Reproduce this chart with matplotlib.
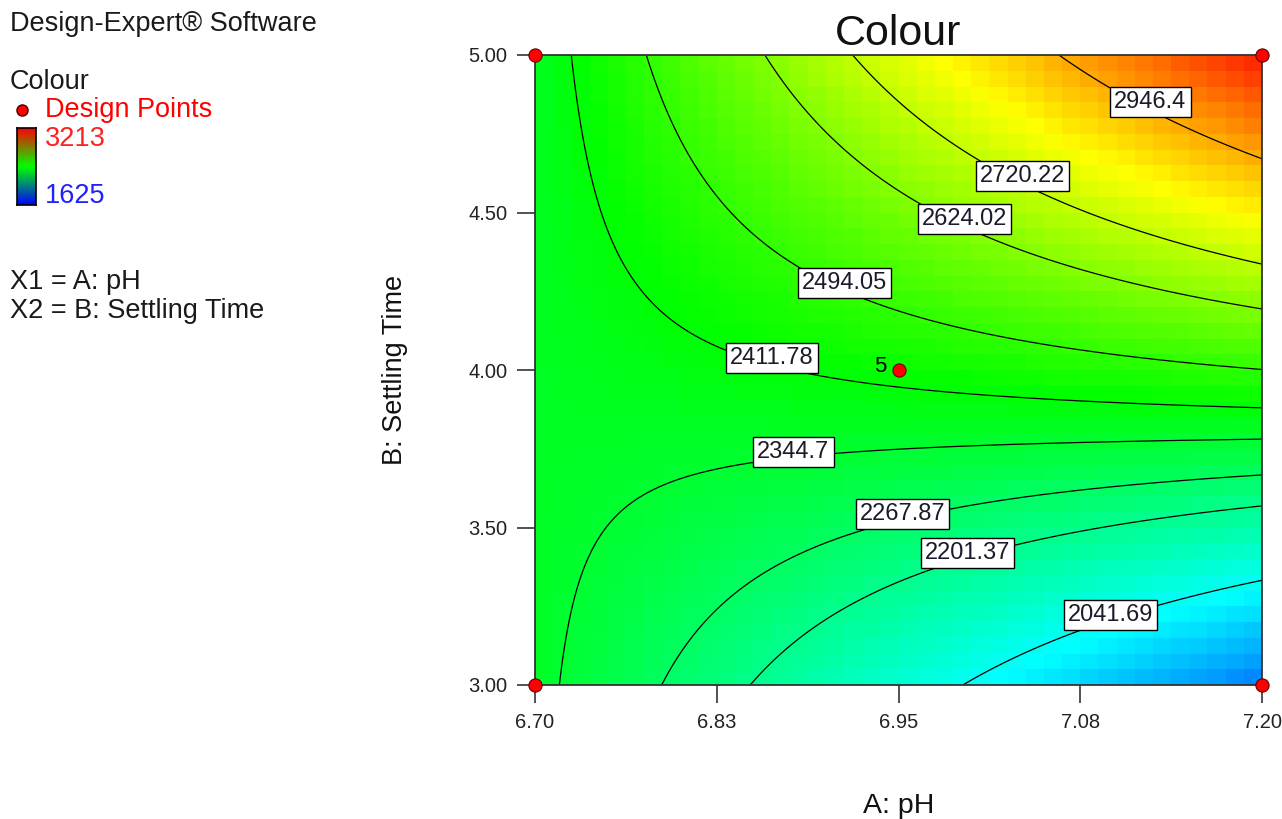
import numpy as np
import matplotlib
matplotlib.use("Agg")
import matplotlib.pyplot as plt
from matplotlib.colors import LinearSegmentedColormap
from matplotlib.lines import Line2D
from matplotlib.transforms import ScaledTranslation

plt.rcParams['font.family'] = ['Liberation Sans', 'DejaVu Sans']

# ---------------- data ----------------
ph_range = [6.70, 7.20]
time_range = [3.00, 5.00]
x_ticks = [6.70, 6.825, 6.95, 7.075, 7.20]
x_tick_labels = ["6.70", "6.83", "6.95", "7.08", "7.20"]
y_ticks = [3.00, 3.50, 4.00, 4.50, 5.00]
y_tick_labels = ["3.00", "3.50", "4.00", "4.50", "5.00"]

# fitted response-surface coefficients (coded units, -1..+1)
coef_intercept = 2430.25
coef_A = 62.75
coef_B = 340.25
coef_AB = 335.75

contour_levels = [2041.69, 2201.37, 2267.87, 2344.7, 2411.78,
                  2494.05, 2624.02, 2720.22, 2946.4]
colour_min = 1625
colour_max = 3213

design_ph = [6.70, 7.20, 6.70, 7.20, 6.95]
design_time = [3.00, 3.00, 5.00, 5.00, 4.00]
design_reps = [1, 1, 1, 1, 5]

# contour label anchor points (pH, settling time)
label_ph = [7.090, 6.992, 6.948, 6.874, 6.862, 6.913, 6.996, 7.035, 7.123]
label_time = [3.244, 3.441, 3.559, 3.762, 4.051, 4.286, 4.492, 4.619, 4.854]


def colour_model(ph, t):
    a = (ph - np.mean(ph_range)) / ((ph_range[1] - ph_range[0]) / 2)
    b = (t - np.mean(time_range)) / ((time_range[1] - time_range[0]) / 2)
    return coef_intercept + coef_A * a + coef_B * b + coef_AB * a * b


# ---------------- figure ----------------
fig = plt.figure(figsize=(12.82, 8.19), dpi=100)
ax = fig.add_axes([535 / 1282, 1 - 685 / 819, 727 / 1282, 630 / 819])

surf_cmap = LinearSegmentedColormap.from_list(
    "de", [(0, 0, 1), (0, 1, 1), (0, 1, 0), (1, 1, 0), (1, 0, 0)])

# blocky surface
nb = 40
xe = np.linspace(ph_range[0], ph_range[1], nb + 1)
ye = np.linspace(time_range[0], time_range[1], nb + 1)
xc = (xe[:-1] + xe[1:]) / 2
yc = (ye[:-1] + ye[1:]) / 2
XC, YC = np.meshgrid(xc, yc)
ax.pcolormesh(xe, ye, colour_model(XC, YC), cmap=surf_cmap,
              vmin=colour_min, vmax=colour_max, shading='flat', zorder=0)

# contour lines
xf = np.linspace(ph_range[0], ph_range[1], 300)
yf = np.linspace(time_range[0], time_range[1], 300)
XF, YF = np.meshgrid(xf, yf)
cs = ax.contour(XF, YF, colour_model(XF, YF), levels=contour_levels,
                colors='black', linewidths=0.9, zorder=2)
labels = ax.clabel(cs, fmt='%g', inline=False, fontsize=17,
                   manual=list(zip(label_ph, label_time)))
shift = ScaledTranslation(4 / 100, 6 / 100, fig.dpi_scale_trans)
for t in labels:
    t.set_rotation(0)
    t.set_transform(t.get_transform() + shift)
    t.set_color('#1a1a2a')
    t.set_bbox(dict(boxstyle='square,pad=0.17', facecolor='white',
                    edgecolor='black', linewidth=1.0))
    t.set_zorder(5)

# design points
ax.plot(design_ph, design_time, 'o', color='#ff0000', mec='#6a0000',
        ms=9.5, mew=0.8, clip_on=False, zorder=10)
for px, py, r in zip(design_ph, design_time, design_reps):
    if r > 1:
        ax.annotate(str(r), (px, py), xytext=(-9, 2.5), textcoords='offset points',
                    ha='right', va='center', fontsize=16, color='black', zorder=11)

ax.set_xlim(ph_range)
ax.set_ylim(time_range)
ax.set_xticks(x_ticks)
ax.set_xticklabels(x_tick_labels)
ax.set_yticks(y_ticks)
ax.set_yticklabels(y_tick_labels)
ax.tick_params(direction='out', length=13, width=1.1, labelsize=14.5,
               pad=7, colors='#222222', labelcolor='#222222')
for s in ax.spines.values():
    s.set_color('#333333')
    s.set_linewidth(1.3)

ax.set_title("Colour", fontsize=31, pad=7, color='#111111')
ax.set_xlabel("A: pH", fontsize=20.5, labelpad=44, color='#111111')
ax.set_ylabel("B: Settling Time", fontsize=19.5, color='#111111')
ax.yaxis.set_label_coords(-0.175, 0.5)

# ---------------- left legend ----------------
W, H = 1282, 819
txt = '#1a1a1a'
fs = 19.5
fig.text(10 / W, 1 - 24 / H, "Design-Expert® Software", fontsize=fs,
         va='center', ha='left', color=txt)
fig.text(10 / W, 1 - 82 / H, "Colour", fontsize=fs, va='center', ha='left', color=txt)
fig.add_artist(Line2D([22 / W], [1 - 110 / H], marker='o', color='#ff0000',
                      mec='#400000', ms=8, mew=1.0, transform=fig.transFigure))
fig.text(45 / W, 1 - 110 / H, "Design Points", fontsize=fs, va='center',
         ha='left', color='#ff0000')

cax = fig.add_axes([17 / W, 1 - 205 / H, 19 / W, 77 / H])
bar_cmap = LinearSegmentedColormap.from_list("bar", [(0, 0, 1), (0, 1, 0), (1, 0, 0)])
cax.imshow(np.linspace(colour_min, colour_max, 256).reshape(-1, 1), aspect='auto',
           cmap=bar_cmap, origin='lower', vmin=colour_min, vmax=colour_max)
cax.set_xticks([])
cax.set_yticks([])
for s in cax.spines.values():
    s.set_color('black')
    s.set_linewidth(1.2)

fig.text(45 / W, 1 - 139 / H, f"{colour_max}", fontsize=fs, va='center',
         ha='left', color='#ff2020')
fig.text(45 / W, 1 - 196 / H, f"{colour_min}", fontsize=fs, va='center',
         ha='left', color='#2020ff')
fig.text(10 / W, 1 - 282 / H, "X1 = A: pH", fontsize=fs, va='center', ha='left', color=txt)
fig.text(10 / W, 1 - 311 / H, "X2 = B: Settling Time", fontsize=fs, va='center',
         ha='left', color=txt)

fig.savefig("out.png", dpi=100)
